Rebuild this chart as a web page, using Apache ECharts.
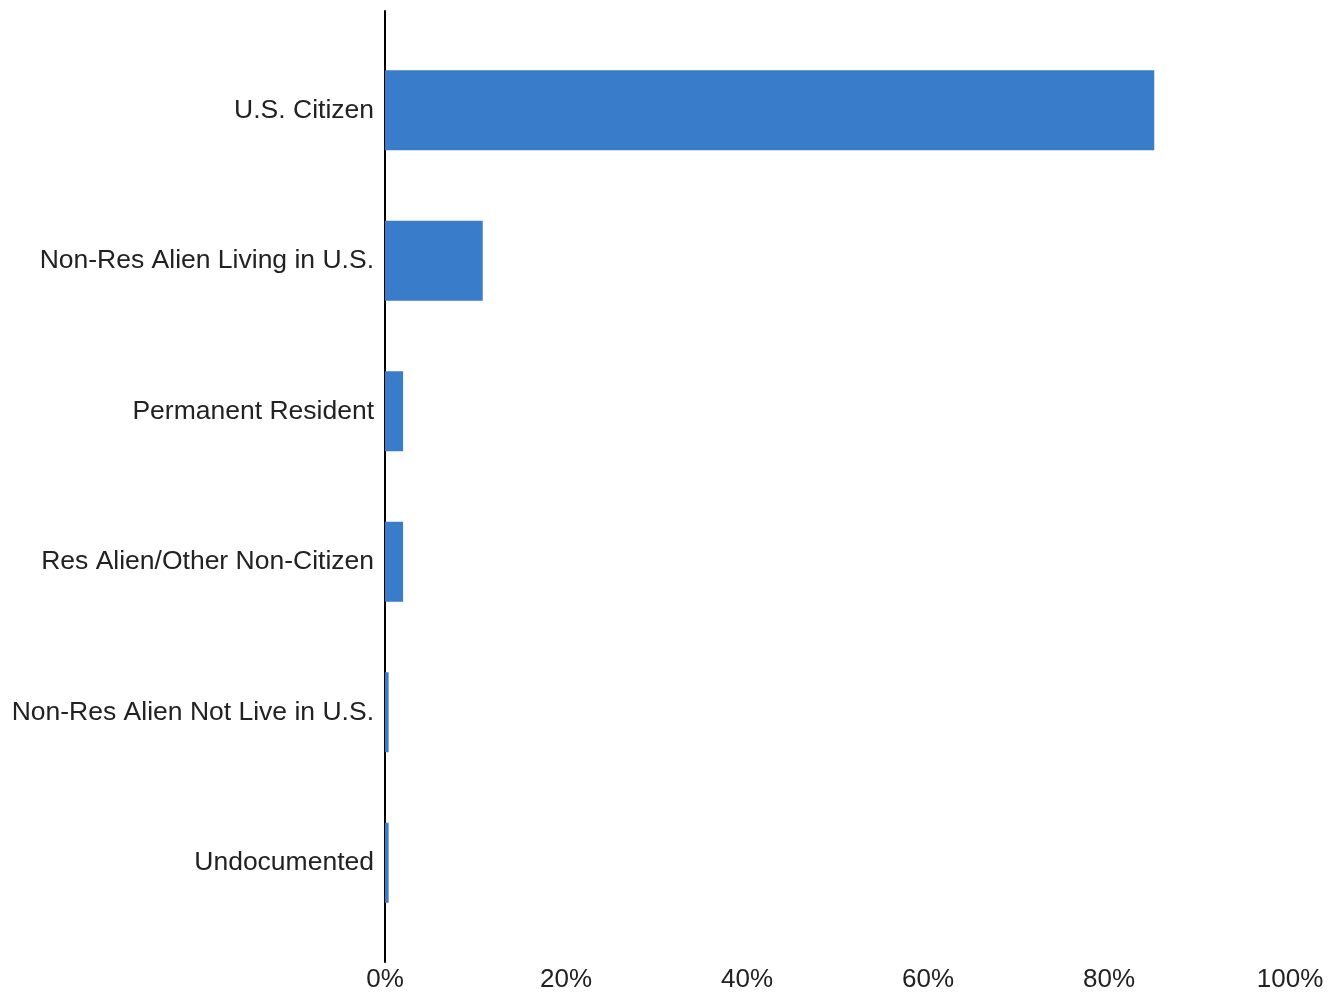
<!DOCTYPE html>
<html>
<head>
<meta charset="utf-8">
<script src="https://cdn.jsdelivr.net/npm/echarts@6/dist/echarts.min.js"></script>
<style>
html,body{margin:0;padding:0;background:#fff;}
#chart{width:1338px;height:994px;}
</style>
</head>
<body>
<div id="chart"></div>
<script>
var categories = ["U.S. Citizen", "Non-Res Alien Living in U.S.", "Permanent Resident", "Res Alien/Other Non-Citizen", "Non-Res Alien Not Live in U.S.", "Undocumented"];
var values = [85.0, 10.8, 2.0, 2.0, 0.4, 0.4];
var xTicks = [0, 20, 40, 60, 80, 100];

var FONT = "'Liberation Sans', Arial, sans-serif";
var chart = echarts.init(document.getElementById('chart'));
chart.setOption({
  backgroundColor: '#ffffff',
  animation: false,
  grid: [
    {left: 385, right: 48, top: 35, bottom: 56, containLabel: false},
    {left: 385, right: 48, top: 11, bottom: 32, containLabel: false}
  ],
  xAxis: [
    {
      gridIndex: 0, type: 'value', min: xTicks[0], max: xTicks[xTicks.length - 1], interval: 20,
      axisLine: {show: false}, axisTick: {show: false}, splitLine: {show: false},
      axisLabel: {formatter: '{value}%', color: '#222', fontSize: 26, fontFamily: FONT, margin: 29, showMinLabel: true, showMaxLabel: true}
    },
    {
      gridIndex: 1, type: 'value', min: 0, max: 100, show: false
    }
  ],
  yAxis: [
    {
      gridIndex: 0, type: 'category', data: categories, inverse: true,
      axisLine: {show: false}, axisTick: {show: false}, splitLine: {show: false},
      axisLabel: {color: '#222', fontSize: 26.5, fontFamily: FONT, margin: 11, padding: [2, 0, 0, 0]}
    },
    {
      gridIndex: 1, type: 'value', min: 0, max: 1,
      axisLine: {show: true, onZero: false, lineStyle: {color: '#000', width: 2}},
      axisTick: {show: false}, axisLabel: {show: false}, splitLine: {show: false}
    }
  ],
  series: [
    {
      type: 'bar', xAxisIndex: 0, yAxisIndex: 0, data: values, barWidth: 80, z: 5,
      itemStyle: {color: '#397cc9'}
    }
  ]
});
</script>
</body>
</html>
